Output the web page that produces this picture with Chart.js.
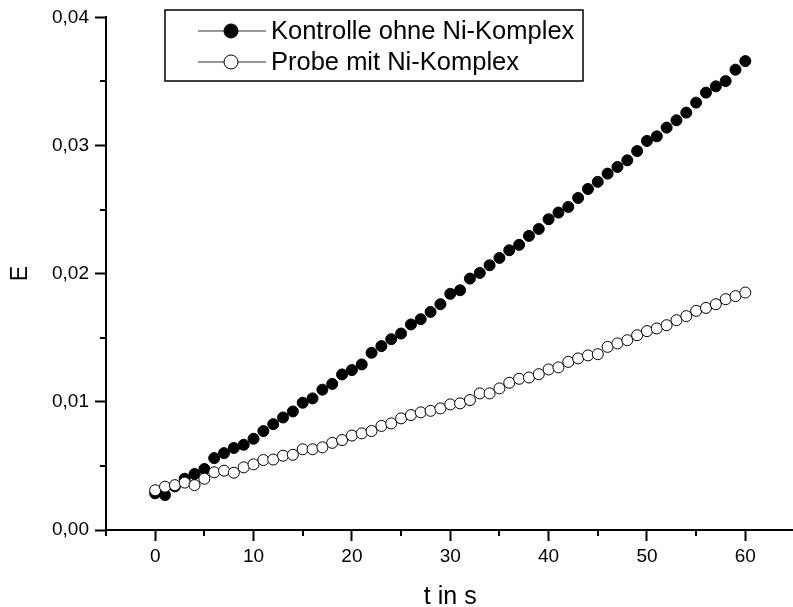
<!DOCTYPE html>
<html>
<head>
<meta charset="utf-8">
<script src="https://cdn.jsdelivr.net/npm/chart.js@4"></script>
<style>
  html, body { margin: 0; padding: 0; background: #fff; overflow: hidden; }
  #wrap { width: 801px; height: 607px; }
</style>
</head>
<body>
<div id="wrap"><canvas id="chart" width="801" height="607"></canvas></div>
<script>
// Zeit in s
const zeit = [];
for (let t = 0; t <= 60; t++) zeit.push(t);

const kontrolle = [
  0.00286, 0.00273, 0.00340, 0.00400, 0.00437, 0.00476, 0.00561, 0.00600, 0.00640, 0.00665,
  0.00712, 0.00772, 0.00826, 0.00878, 0.00925, 0.00993, 0.01027, 0.01095, 0.01140, 0.01214,
  0.01248, 0.01292, 0.01383, 0.01435, 0.01489, 0.01533, 0.01604, 0.01645, 0.01702, 0.01762,
  0.01843, 0.01871, 0.01962, 0.02006, 0.02066, 0.02123, 0.02183, 0.02225, 0.02295, 0.02349,
  0.02425, 0.02477, 0.02521, 0.02591, 0.02661, 0.02717, 0.02781, 0.02833, 0.02885, 0.02957,
  0.03036, 0.03072, 0.03140, 0.03197, 0.03257, 0.03335, 0.03413, 0.03462, 0.03503, 0.03592,
  0.03659
];

const probe = [
  0.00310, 0.00338, 0.00350, 0.00370, 0.00350, 0.00400, 0.00450, 0.00463, 0.00447, 0.00489,
  0.00512, 0.00546, 0.00550, 0.00580, 0.00587, 0.00630, 0.00630, 0.00645, 0.00680, 0.00702,
  0.00737, 0.00754, 0.00772, 0.00812, 0.00832, 0.00871, 0.00897, 0.00918, 0.00930, 0.00949,
  0.00980, 0.00988, 0.01014, 0.01066, 0.01066, 0.01105, 0.01149, 0.01180, 0.01190, 0.01216,
  0.01253, 0.01269, 0.01312, 0.01339, 0.01362, 0.01372, 0.01429, 0.01456, 0.01481, 0.01520,
  0.01552, 0.01573, 0.01598, 0.01637, 0.01669, 0.01710, 0.01733, 0.01762, 0.01801, 0.01825,
  0.01853
];

const xTickLabels = [0, 10, 20, 30, 40, 50, 60];
const yTickLabels = ['0,00', '0,01', '0,02', '0,03', '0,04'];
const serienNamen = ['Kontrolle ohne Ni-Komplex', 'Probe mit Ni-Komplex'];

const FONT = '"Liberation Sans", Arial, sans-serif';

function isMajorX(v) { return xTickLabels.includes(v); }
function isMajorY(v) { return Math.round(v * 1000) % 10 === 0; }

// kleine Zwischenstriche (minor ticks) nach aussen
const minorTicks = {
  id: 'minorTicks',
  afterDraw(chart) {
    const ctx = chart.ctx;
    const xs = chart.scales.x, ys = chart.scales.y;
    ctx.save();
    ctx.strokeStyle = '#000';
    ctx.lineWidth = 2;
    xs.ticks.forEach(t => {
      if (isMajorX(t.value)) return;
      const px = Math.round(xs.getPixelForValue(t.value));
      ctx.beginPath();
      ctx.moveTo(px, xs.top);
      ctx.lineTo(px, xs.top + 6);
      ctx.stroke();
    });
    ys.ticks.forEach(t => {
      if (isMajorY(t.value)) return;
      const py = Math.round(ys.getPixelForValue(t.value));
      ctx.beginPath();
      ctx.moveTo(ys.right, py);
      ctx.lineTo(ys.right - 6, py);
      ctx.stroke();
    });
    ctx.restore();
  }
};

// Legende im Origin-Stil: Linie - Symbol - Linie
const boxLegend = {
  id: 'boxLegend',
  afterDraw(chart) {
    const ctx = chart.ctx;
    const left = 165, top = 10, w = 418, h = 71;
    ctx.save();
    ctx.strokeStyle = '#000';
    ctx.lineWidth = 1.5;
    ctx.strokeRect(left, top, w, h);
    ctx.font = '25.5px ' + FONT;
    ctx.textBaseline = 'middle';
    chart.data.datasets.forEach((ds, i) => {
      const y = top + 21 + i * 31;
      ctx.strokeStyle = '#333';
      ctx.lineWidth = 1;
      ctx.beginPath();
      ctx.moveTo(198, y);
      ctx.lineTo(266, y);
      ctx.stroke();
      ctx.beginPath();
      ctx.arc(231, y, 7, 0, Math.PI * 2);
      ctx.fillStyle = ds.backgroundColor;
      ctx.fill();
      ctx.strokeStyle = '#000';
      ctx.lineWidth = 1;
      ctx.stroke();
      ctx.fillStyle = '#000';
      ctx.fillText(ds.label, 271, y + 1);
    });
    ctx.restore();
  }
};

new Chart(document.getElementById('chart'), {
  type: 'scatter',
  data: {
    datasets: [
      {
        label: serienNamen[0],
        data: zeit.map((t, i) => ({ x: t, y: kontrolle[i] })),
        backgroundColor: '#000',
        borderColor: '#000',
        borderWidth: 1,
        pointRadius: 5.5,
        order: 2
      },
      {
        label: serienNamen[1],
        data: zeit.map((t, i) => ({ x: t, y: probe[i] })),
        backgroundColor: '#fff',
        borderColor: '#000',
        borderWidth: 1,
        pointRadius: 5.5,
        order: 1
      }
    ]
  },
  options: {
    responsive: false,
    animation: false,
    layout: { padding: { left: 0, right: 0, top: 17, bottom: 0 } },
    plugins: { legend: { display: false }, tooltip: { enabled: false } },
    scales: {
      x: {
        type: 'linear',
        min: -5,
        max: 65,
        afterFit(scale) { scale.height = 77; },
        border: { display: true, color: '#000', width: 2 },
        grid: {
          drawOnChartArea: false,
          tickLength: 11,
          tickWidth: 2,
          tickColor: c => isMajorX(c.tick.value) ? '#000' : 'rgba(0,0,0,0)'
        },
        ticks: {
          stepSize: 5,
          autoSkip: false,
          maxRotation: 0,
          color: '#000',
          padding: 4,
          font: { family: FONT, size: 19 },
          callback: v => isMajorX(v) ? String(v) : ''
        },
        title: {
          display: true,
          text: 't in s',
          color: '#000',
          font: { family: FONT, size: 25 },
          padding: { top: 4, bottom: -5 }
        }
      },
      y: {
        type: 'linear',
        min: 0,
        max: 0.04,
        afterFit(scale) { scale.width = 106; },
        border: { display: true, color: '#000', width: 2 },
        grid: {
          drawOnChartArea: false,
          tickLength: 11,
          tickWidth: 2,
          tickColor: c => isMajorY(c.tick.value) ? '#000' : 'rgba(0,0,0,0)'
        },
        ticks: {
          stepSize: 0.005,
          autoSkip: false,
          color: '#000',
          padding: 6,
          font: { family: FONT, size: 19 },
          callback: v => isMajorY(v) ? yTickLabels[Math.round(v * 100)] : ''
        },
        title: {
          display: true,
          text: 'E',
          color: '#000',
          font: { family: FONT, size: 23 },
          padding: { top: 7, bottom: 0 }
        }
      }
    }
  },
  plugins: [minorTicks, boxLegend]
});
</script>
</body>
</html>
